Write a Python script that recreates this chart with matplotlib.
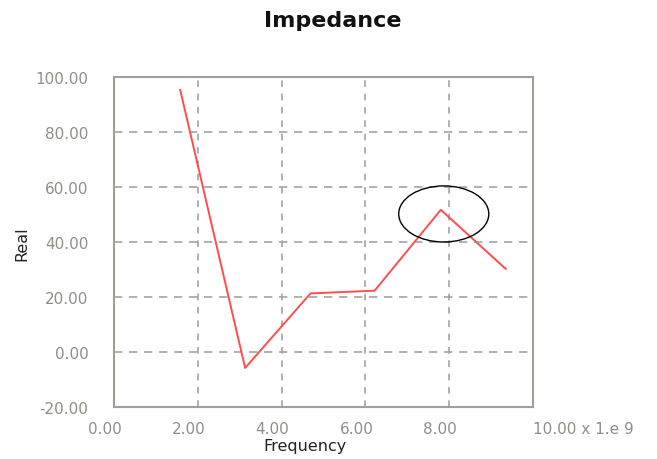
import matplotlib.pyplot as plt
from matplotlib.patches import Ellipse
from matplotlib.transforms import ScaledTranslation

# impedance sweep (frequency in GHz, real part in ohms)
freq = [1.58, 3.13, 4.69, 6.22, 7.80, 9.35]
real = [95.3, -5.8, 21.3, 22.3, 51.7, 30.2]

x_ticks = [0, 2, 4, 6, 8, 10]
x_labels = ["0.00", "2.00", "4.00", "6.00", "8.00", "10.00 x 1.e 9"]
y_ticks = [-20, 0, 20, 40, 60, 80, 100]
y_labels = ["-20.00", "0.00", "20.00", "40.00", "60.00", "80.00", "100.00"]

# highlighted region around the peak
mark_center = (7.87, 50.2)
mark_w, mark_h = 2.15, 20.4

TICK_GRAY = "#8f8f88"
SPINE_GRAY = "#a0a098"
GRID_GRAY = "#a3a3a3"

fig = plt.figure(figsize=(6.57, 4.6), dpi=100)
ax = fig.add_axes([114 / 657, 52 / 460, 419 / 657, 330 / 460])

ax.plot(freq, real, color="#ff4c4c", lw=1.4, zorder=3)
ax.add_patch(Ellipse(mark_center, mark_w, mark_h, fill=False,
                     edgecolor="black", lw=1.0, zorder=4))

ax.set_xlim(0, 10)
ax.set_ylim(-20, 100)

# dashed grid on interior ticks only
for xv in x_ticks[1:-1]:
    ax.axvline(xv, color=GRID_GRAY, lw=1.2, dashes=(4, 4), zorder=1)
for yv in y_ticks[1:-1]:
    ax.axhline(yv, color=GRID_GRAY, lw=1.2, dashes=(5, 4), zorder=1)

ax.set_xticks(x_ticks)
ax.set_xticklabels(x_labels)
ax.set_yticks(y_ticks)
ax.set_yticklabels(y_labels)
ax.tick_params(axis="both", length=0, labelsize=11, labelcolor=TICK_GRAY)
ax.tick_params(axis="x", pad=10)
ax.tick_params(axis="y", pad=18.5)

# x labels sit slightly left of their ticks; the last one hangs off the axis end
shift = ScaledTranslation(-9 / 100, 0, fig.dpi_scale_trans)
xlabels = ax.get_xticklabels()
for lbl in xlabels[:-1]:
    lbl.set_transform(lbl.get_transform() + shift)
xlabels[-1].set_horizontalalignment("left")

for sp in ax.spines.values():
    sp.set_color(SPINE_GRAY)
    sp.set_linewidth(1.5)

fig.text(333 / 657, 1 - 21 / 460, "Impedance", ha="center", va="center",
         fontsize=16, fontweight="bold", color="#111111")
fig.text(305 / 657, 1 - 447 / 460, "Frequency", ha="center", va="center",
         fontsize=11.5, color="#222222")
fig.text(22 / 657, 1 - 244 / 460, "Real", ha="center", va="center",
         rotation=90, fontsize=11.5, color="#222222")

fig.savefig("out.png", dpi=100)
